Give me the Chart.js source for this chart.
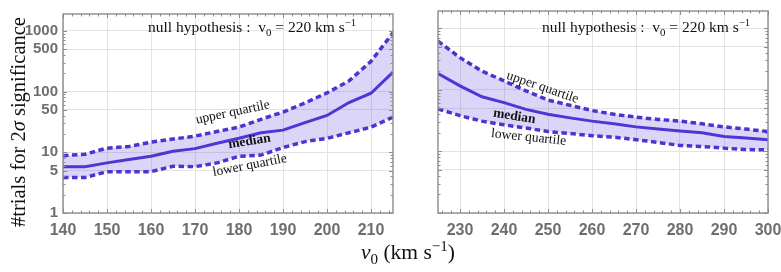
<!DOCTYPE html>
<html>
<head>
<meta charset="utf-8">
<script src="https://cdn.jsdelivr.net/npm/chart.js@4.4.1/dist/chart.umd.min.js"></script>
<style>
  html, body { margin: 0; padding: 0; background: #fff; }
  #wrap { position: relative; width: 781px; height: 272px; overflow: hidden; }
  .panel { position: absolute; top: 0; height: 245px; }
  .txt { position: absolute; font-family: "Liberation Serif", "DejaVu Serif", serif; color: #111; white-space: nowrap; }
  .lab { position: absolute; font-family: "Liberation Serif", serif; font-size: 13.5px; color: #111; white-space: nowrap; transform-origin: center center; }
  sub, sup { font-size: 70%; line-height: 0; }
</style>
</head>
<body>
<div id="wrap">
  <div class="panel" style="left:0;width:400px"><canvas id="leftChart"></canvas></div>
  <div class="panel" style="left:430px;width:351px"><canvas id="rightChart"></canvas></div>

  <div class="txt" style="left:148px;top:18px;font-size:15.5px">null hypothesis :&nbsp; v<sub>0</sub> = 220 km s<sup>&minus;1</sup></div>
  <div class="txt" style="left:542px;top:18px;font-size:15.5px">null hypothesis :&nbsp; v<sub>0</sub> = 220 km s<sup>&minus;1</sup></div>

  <div class="txt" style="left:-112px;top:110px;width:260px;height:24px;line-height:24px;text-align:center;font-size:20.5px;transform:rotate(-90deg)">#trials for 2<i>σ</i> significance</div>
  <div class="txt" style="left:308px;top:240px;width:200px;text-align:center;font-size:21.5px"><i>v</i><sub>0</sub> (km s<sup>&minus;1</sup>)</div>

  <div class="lab" style="left:195px;top:104px;transform:rotate(-12deg)">upper quartile</div>
  <div class="lab" style="left:228px;top:133px;transform:rotate(-9deg);font-weight:bold">median</div>
  <div class="lab" style="left:212px;top:157px;transform:rotate(-11deg)">lower quartile</div>
  <div class="lab" style="left:505px;top:79px;transform:rotate(19deg)">upper quartile</div>
  <div class="lab" style="left:493px;top:108px;transform:rotate(9deg);font-weight:bold">median</div>
  <div class="lab" style="left:491px;top:129px;transform:rotate(6deg)">lower quartile</div>
</div>

<script>
// v0 grid, left panel (140-215) and right panel (225-300)
const leftV = [140, 145, 150, 155, 160, 165, 170, 175, 180, 185, 190, 195, 200, 205, 210, 215];
const leftUpper = [8.8, 9.3, 11.7, 12.5, 14.7, 16.5, 18.5, 22, 26, 35, 46, 65, 95, 150, 316, 930];
const leftMedian = [5.8, 5.8, 6.7, 7.6, 8.6, 10.4, 11.5, 14.1, 17, 21, 23.2, 30.8, 40.5, 66, 94, 210];
const leftLower = [3.85, 3.85, 4.8, 4.8, 4.8, 5.9, 5.8, 6.7, 8.6, 9, 12, 15, 17, 21, 26, 38];

const rightV = [225, 230, 235, 240, 245, 250, 255, 260, 265, 270, 275, 280, 285, 290, 295, 300];
const rightUpper = [617, 332, 200, 140, 96, 68, 56, 46, 40, 36, 33, 31, 28, 25, 23, 21];
const rightMedian = [183, 116, 77, 62, 48, 40, 35, 31, 28, 25, 23, 21.5, 20, 17.5, 16.5, 15.5];
const rightLower = [49, 38, 31, 27, 24, 21, 19.5, 18, 17, 15.5, 14, 12.5, 12, 11.3, 10.7, 10.6];

const leftTicks = [140, 150, 160, 170, 180, 190, 200, 210];
const rightTicks = [230, 240, 250, 260, 270, 280, 290, 300];
const yTicks = [1, 5, 10, 50, 100, 500, 1000];

const lineColor = '#4a33d1';
const bandColor = 'rgba(90, 70, 220, 0.22)';
const frameColor = '#8c8c8c';

// Mathematica-style frame with small inward ticks on all four sides
const frameTicks = {
    id: 'frameTicks',
    afterDatasetsDraw(chart) {
        const { ctx, chartArea: a, scales: { x, y } } = chart;
        ctx.save();
        ctx.strokeStyle = frameColor;
        ctx.lineWidth = 1;
        ctx.beginPath();
        for (let v = Math.ceil(x.min / 2) * 2; v <= x.max; v += 2) {
            const px = Math.round(x.getPixelForValue(v)) + 0.5;
            const len = v % 10 === 0 ? 4 : 2.5;
            ctx.moveTo(px, a.bottom); ctx.lineTo(px, a.bottom - len);
            ctx.moveTo(px, a.top); ctx.lineTo(px, a.top + len);
        }
        for (let d = 1; d <= 1000; d *= 10) {
            for (let m = 1; m < 10; m++) {
                const v = d * m;
                if (v > y.max) break;
                const py = Math.round(y.getPixelForValue(v)) + 0.5;
                const len = (m === 1 || m === 5) ? 4 : 2.5;
                ctx.moveTo(a.left, py); ctx.lineTo(a.left + len, py);
                ctx.moveTo(a.right, py); ctx.lineTo(a.right - len, py);
            }
        }
        ctx.stroke();
        ctx.lineWidth = 1.4;
        ctx.strokeRect(a.left, a.top, a.width, a.height);
        ctx.restore();
    }
};

function makeChart(id, vs, upper, median, lower, xmin, xmax, xticks, showY) {
    const ctx = document.getElementById(id).getContext('2d');
    const pts = arr => arr.map((v, i) => ({ x: vs[i], y: v }));
    return new Chart(ctx, {
        type: 'line',
        data: {
            datasets: [
                {
                    label: 'upper quartile',
                    data: pts(upper),
                    borderColor: lineColor,
                    borderDash: [5.5, 3.5],
                    borderWidth: 3.5,
                    backgroundColor: bandColor,
                    fill: 2,
                    pointRadius: 0,
                    tension: 0
                },
                {
                    label: 'median',
                    data: pts(median),
                    borderColor: lineColor,
                    borderWidth: 3,
                    fill: false,
                    pointRadius: 0,
                    tension: 0
                },
                {
                    label: 'lower quartile',
                    data: pts(lower),
                    borderColor: lineColor,
                    borderDash: [5.5, 3.5],
                    borderWidth: 3.5,
                    fill: false,
                    pointRadius: 0,
                    tension: 0
                }
            ]
        },
        options: {
            responsive: true,
            maintainAspectRatio: false,
            animation: false,
            events: [],
            layout: { padding: { top: 11, right: showY ? 7 : 13, bottom: 0, left: 0 } },
            plugins: {
                legend: { display: false },
                tooltip: { enabled: false }
            },
            scales: {
                x: {
                    type: 'linear',
                    min: xmin,
                    max: xmax,
                    afterBuildTicks: s => { s.ticks = xticks.map(v => ({ value: v })); },
                    afterFit: s => { s.height = 32; s.paddingLeft = 0; s.paddingRight = 0; },
                    grid: { color: '#e3e3e3', drawTicks: false },
                    border: { display: false },
                    ticks: {
                        padding: 8,
                        color: '#6e6e6e',
                        font: { family: 'Liberation Sans', size: 16, weight: 'bold' },
                        maxRotation: 0,
                        autoSkip: false
                    }
                },
                y: {
                    type: 'logarithmic',
                    min: 1,
                    max: 1900,
                    afterBuildTicks: s => { s.ticks = yTicks.map(v => ({ value: v })); },
                    afterFit: s => { s.width = showY ? 63 : 8; },
                    grid: { color: '#e3e3e3', drawTicks: false },
                    border: { display: false },
                    ticks: {
                        display: showY,
                        padding: 5,
                        color: '#6e6e6e',
                        font: { family: 'Liberation Sans', size: 15, weight: 'bold' },
                        callback: v => String(v)
                    }
                }
            }
        },
        plugins: [frameTicks]
    });
}

makeChart('leftChart', leftV, leftUpper, leftMedian, leftLower, 140, 215, leftTicks, true);
makeChart('rightChart', rightV, rightUpper, rightMedian, rightLower, 225, 300, rightTicks, false);
</script>
</body>
</html>
